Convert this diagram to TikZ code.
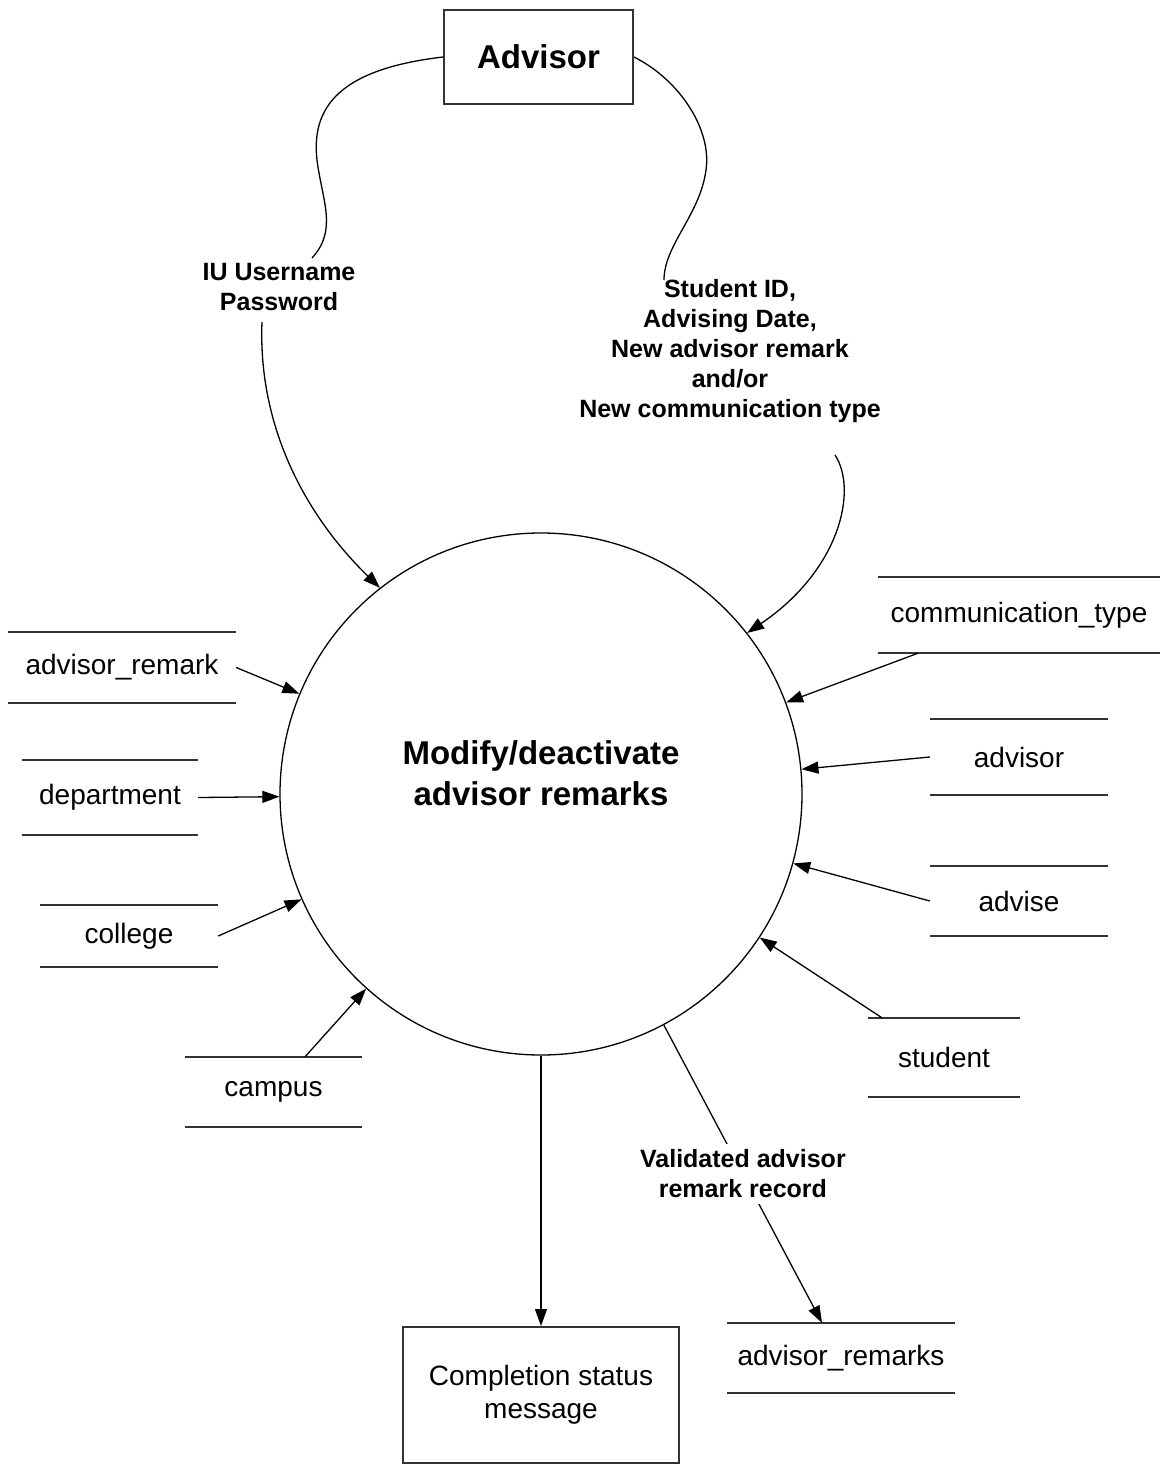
\documentclass[tikz,border=0pt]{standalone}
\usepackage{fontspec}
\setmainfont{Liberation Sans}
\usetikzlibrary{arrows.meta,positioning}

\tikzset{
    wire/.style={line width=1.3pt},
    flow/.style={wire,-{Triangle[length=17pt,width=12pt]}},
    storeline/.style={draw,line width=2pt,black!80,-},
    store/.style 2 args={minimum width=#1,minimum height=#2,inner sep=0pt,
        font=\fontsize{28}{33}\selectfont,
        append after command={
            (\tikzlastnode.north west) edge[storeline] (\tikzlastnode.north east)
            (\tikzlastnode.south west) edge[storeline] (\tikzlastnode.south east)}},
    entity/.style={draw,line width=2pt,black!80,text=black,inner sep=0pt,align=center},
    flowlabel/.style={align=center,font=\bfseries\fontsize{25}{30}\selectfont}
}

\begin{document}
\begin{tikzpicture}[x=1pt,y=-1pt]
    \useasboundingbox (0,0) rectangle (1160,1465);

    \node[entity,minimum width=189pt,minimum height=94pt,
          font=\bfseries\fontsize{33}{40}\selectfont] (adv) at (538.5,57) {Advisor};
    \node[circle,draw,line width=1.3pt,minimum size=522pt,inner sep=0pt] (proc) at (541,794) {};
    \node[align=center,font=\bfseries\fontsize{33}{41}\selectfont] (proctext)
          at ([yshift=21pt]proc.center) {Modify/deactivate\\advisor remarks};
    \node[entity,minimum width=276pt,minimum height=136pt,
          font=\fontsize{28}{33}\selectfont] (msg) at (541,1395) {Completion status\\message};

    % data stores
    \node[store={228pt}{71pt}] (armk)  at (122,667.5)  {advisor\_remark};
    \node[store={176pt}{75pt}] (dept)  at (110,797.5)  {department};
    \node[store={178pt}{62pt}] (coll)  at (129,936)    {college};
    \node[store={177pt}{70pt}] (camp)  at (273.5,1092) {campus};
    \node[store={282pt}{76pt}] (ctype) at (1019,615)   {communication\_type};
    \node[store={178pt}{76pt}] (advr)  at (1019,757)   {advisor};
    \node[store={178pt}{70pt}] (advs)  at (1019,901)   {advise};
    \node[store={152pt}{79pt}] (stud)  at (944,1057.5) {student};
    \node[store={228pt}{70pt}] (rmks)  at (841,1358)   {advisor\_remarks};

    \draw[flow] (armk.east) -- (proc);
    \draw[flow] (dept.east) -- (proc);
    \draw[flow] (coll.east) -- (proc);
    \draw[flow] ([xshift=31.5pt]camp.north) -- (proc);
    \draw[flow] ([xshift=-101pt]ctype.south) -- (proc);
    \draw[flow] (advr.west) -- (proc);
    \draw[flow] (advs.west) -- (proc);
    \draw[flow] ([xshift=-62pt]stud.north) -- (proc);
    \draw[flow] (proc.south) -- (msg.north);
    \draw[flow] (proc.-62) -- node[flowlabel,fill=white,inner sep=6pt] {Validated advisor\\remark record}
                ([xshift=-19pt]rmks.north);

    % input flows from the advisor
    \node[flowlabel] (login) at (279,287) {IU Username\\Password};
    \node[flowlabel] (edits) at (730,351) {Student ID,\\Advising Date,\\New advisor remark\\and/or\\New communication type};
    \coordinate (loginin)  at (312,258);
    \coordinate (loginout) at (262,322);
    \coordinate (editsin)  at (664,280);
    \coordinate (editsout) at (835,455);
    \draw[wire] (adv.west) .. controls (350,68) and (310,100) .. (317,160)
                .. controls (322,200) and (338,230) .. (loginin);
    \draw[flow] (loginout) .. controls (258,420) and (300,510) .. (proc.128);
    \draw[wire] (adv.east) .. controls (680,80) and (712,130) .. (706,170)
                .. controls (700,215) and (664,245) .. (editsin);
    \draw[flow] (editsout) .. controls (858,490) and (840,570) .. (proc.38);
\end{tikzpicture}
\end{document}
